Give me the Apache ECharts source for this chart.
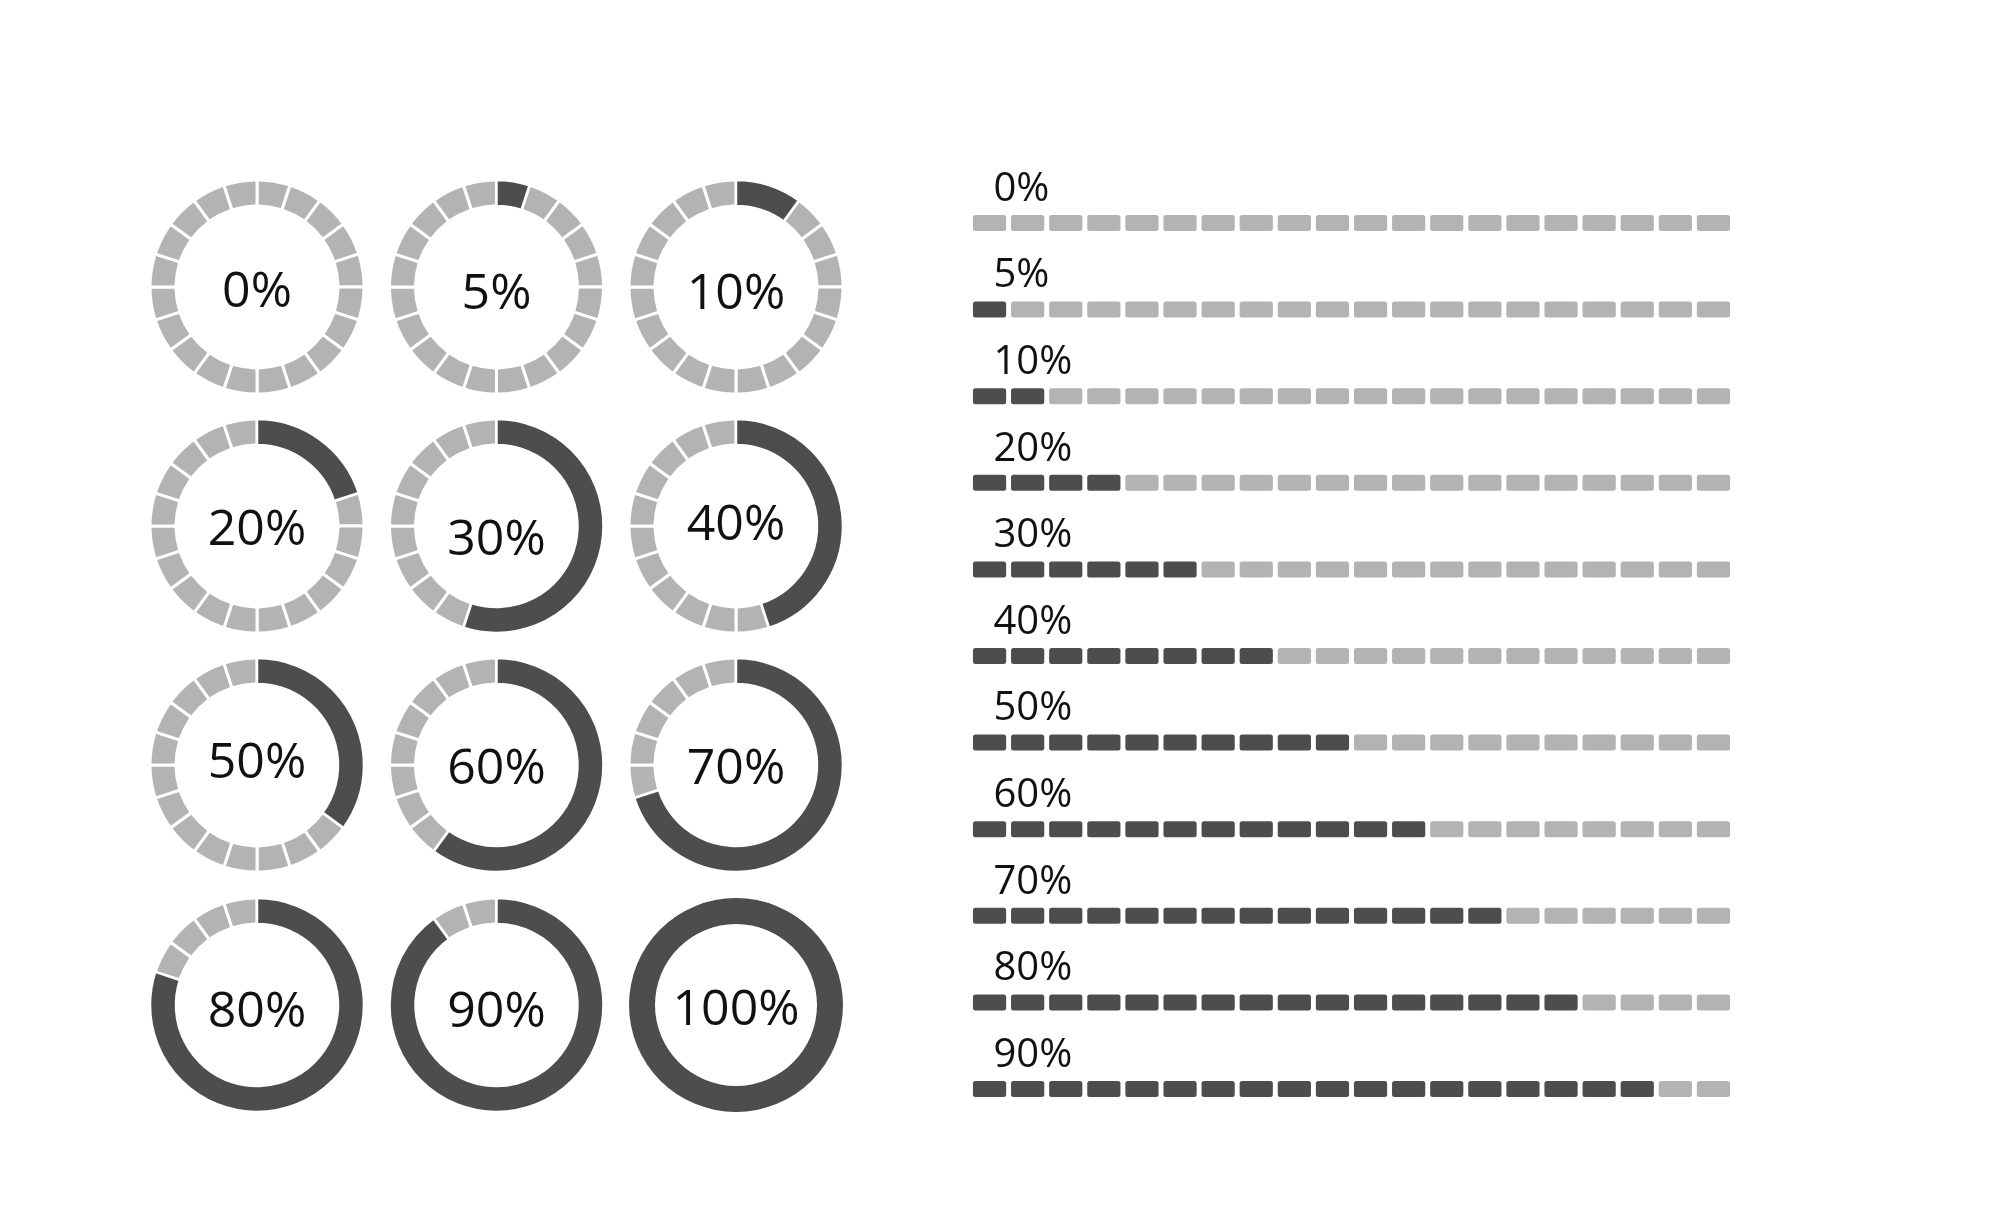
<!DOCTYPE html>
<html>
<head>
<meta charset="utf-8">
<script src="https://cdn.jsdelivr.net/npm/echarts@6/dist/echarts.min.js"></script>
<style>
html,body{margin:0;padding:0;background:#fff;}
#chart{width:2000px;height:1230px;}
</style>
</head>
<body>
<div id="chart"></div>
<script>
// ---- data ----
// circular indicators: caption text and the drawn dark share (percent)
const ringLabels = ['0%','5%','10%','20%','30%','40%','50%','60%','70%','80%','90%','100%'];
const ringFill   = [0, 5, 10, 20, 55, 45, 35, 60, 70, 80, 90, 100];
const ringSegments = 20;
// linear indicators
const barLabels = ['0%','5%','10%','20%','30%','40%','50%','60%','70%','80%','90%'];
const barValues = [0, 5, 10, 20, 30, 40, 50, 60, 70, 80, 90];
const barBlocks = 20;

// ---- style / layout ----
const DARK = '#4d4d4d';
const LIGHT = '#b3b3b3';
const FONT = 'Open Sans';
const ringCols = [257, 496.5, 736];
const ringRows = [287, 526, 765, 1005];
const ringTextDy = [6, 8, 8, 5, 15, 0, -1, 5, 5, 8, 8, 6];
const R = [81, 107];

const series = [];
ringLabels.forEach((lab, k) => {
  const center = [ringCols[k % 3], ringRows[Math.floor(k / 3)]];
  const segs = [];
  for (let i = 0; i < ringSegments; i++) segs.push({value: 1, name: 's' + i});
  series.push({
    type: 'pie', center, radius: R, startAngle: 90, clockwise: true,
    silent: true, animation: false, label: {show: false}, labelLine: {show: false},
    itemStyle: {color: LIGHT, borderColor: '#fff', borderWidth: 3, borderRadius: 2},
    emphasis: {disabled: true},
    data: segs
  });
  const f = ringFill[k];
  if (f > 0) {
    series.push({
      type: 'pie', center, radius: R, startAngle: 90, clockwise: true,
      silent: true, animation: false, label: {show: false}, labelLine: {show: false},
      emphasis: {disabled: true},
      data: [
        {value: f, name: 'fill', itemStyle: {color: DARK, borderColor: '#fff', borderWidth: f >= 100 ? 0 : 2.5}},
        {value: 100 - f, name: 'rest', itemStyle: {color: 'rgba(0,0,0,0)', borderWidth: 0}}
      ]
    });
  }
  series.push({
    type: 'pie', center: [center[0], center[1] + ringTextDy[k]], radius: [0, 60],
    silent: true, animation: false,
    emphasis: {disabled: true}, labelLine: {show: false},
    itemStyle: {color: 'rgba(0,0,0,0)'},
    label: {show: true, position: 'center', formatter: '{b}', fontFamily: FONT, fontSize: 50,
            color: '#111', fontWeight: 400},
    data: [{value: 1, name: lab}]
  });
});

series.push({
  type: 'custom', xAxisIndex: 0, yAxisIndex: 0, animation: false, silent: true,
  encode: {x: 0, y: 1},
  data: barValues.map((v, i) => [v, i]),
  renderItem: function (params, api) {
    const v = api.value(0);
    const row = api.value(1);
    const step = 100 / barBlocks;
    const w = api.size([step, 0])[0];
    const gap = 4.9, h = 16;
    const children = [];
    for (let i = 0; i < barBlocks; i++) {
      const p = api.coord([i * step, row]);
      children.push({
        type: 'rect',
        shape: {x: p[0] + gap / 2, y: p[1] - h / 2, width: w - gap, height: h, r: 2.5},
        style: {fill: i * step < v ? DARK : LIGHT}
      });
    }
    const p0 = api.coord([0, row]);
    children.push({
      type: 'text', x: p0[0] + 23, y: p0[1] - 13.5,
      style: {text: barLabels[params.dataIndex], fontFamily: FONT, fontSize: 40, fill: '#111',
              align: 'left', verticalAlign: 'bottom'}
    });
    return {type: 'group', children};
  }
});

const chart = echarts.init(document.getElementById('chart'), null, {renderer: 'canvas'});
chart.setOption({
  backgroundColor: '#fff',
  animation: false,
  grid: {left: 970.5, width: 762, top: 179.7, height: 952.6},
  xAxis: {type: 'value', min: 0, max: 100, show: false},
  yAxis: {type: 'category', inverse: true, data: barLabels, show: false},
  series
});
</script>
</body>
</html>
